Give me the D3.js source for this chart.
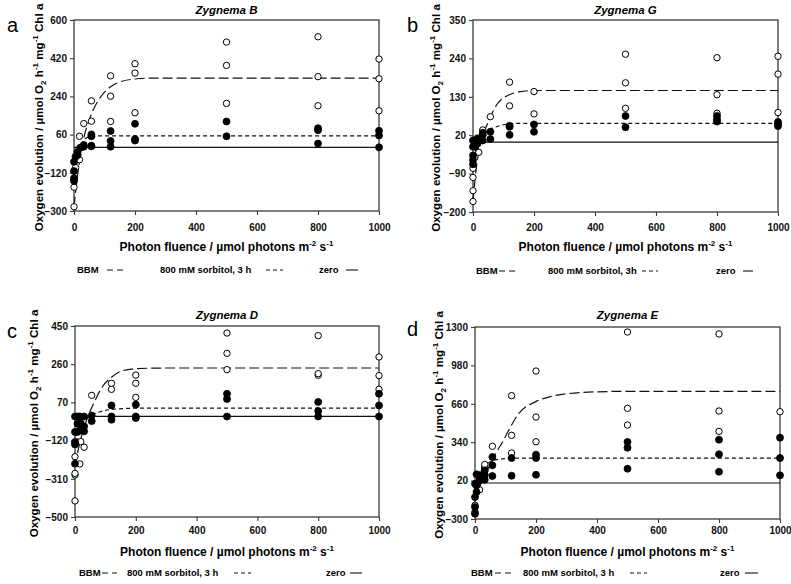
<!DOCTYPE html>
<html>
<head>
<meta charset="utf-8">
<script src="https://cdn.jsdelivr.net/npm/d3@7/dist/d3.min.js"></script>
<style>
  html, body { margin: 0; padding: 0; background: #fff; }
  svg { display: block; font-family: "Liberation Sans", Arial, sans-serif; }
</style>
</head>
<body>
<svg id="chart" width="791" height="584"></svg>
<script>
// x values are photon fluence, y values oxygen evolution
const X_TICKS = [0, 200, 400, 600, 800, 1000];

const Y_TICKS_B = [600, 420, 240, 60, -120, -300];
const Y_TICKS_G = [350, 240, 130, 20, -90, -200];
const Y_TICKS_D = [450, 260, 70, -120, -310, -500];
const Y_TICKS_E = [1300, 980, 660, 340, 20, -300];

// open circles (BBM)
const OPEN_B = [[0,-280],[0,-188],[0,-150],[5,-95],[18,-58],[18,52],[32,112],[57,123],[57,219],
  [120,122],[120,241],[120,337],[200,163],[200,350],[200,394],[500,207],[500,386],[500,496],
  [800,196],[800,333],[800,521],[1000,172],[1000,323],[1000,416]];
// filled circles (800 mM sorbitol / zero)
const FILLED_B = [[0,-158],[0,-146],[0,-112],[0,-68],[5,-44],[12,-36],[12,-21],[20,-2],[32,3],[32,11],
  [57,5],[57,8],[57,52],[57,61],[120,3],[120,30],[120,77],[200,32],[200,39],[200,111],
  [500,52],[500,122],[800,18],[800,81],[800,90],[1000,0],[1000,56],[1000,78]];
const FIT_BBM_B = [[0,-280],[10,-150],[20,-50],[30,30],[50,130],[75,210],[100,260],[125,290],[150,308],[200,322],[250,326],[1000,326]];
const FIT_SORB_B = [[0,-150],[10,-60],[20,0],[30,30],[50,50],[80,54],[1000,54]];

const OPEN_G = [[0,-170],[0,-139],[0,-101],[0,-75],[19,-29],[32,35],[57,73],[120,104],[120,172],
  [200,81],[200,145],[500,97],[500,170],[500,252],[800,83],[800,136],[800,242],[1000,85],[1000,195],[1000,246]];
const FILLED_G = [[0,-63],[0,-51],[0,-38],[0,-13],[0,5],[8,-13],[8,2],[15,-3],[15,11],[32,5],[32,21],[32,27],
  [57,9],[57,30],[120,21],[120,44],[120,47],[200,30],[200,51],[500,43],[500,75],
  [800,59],[800,65],[800,75],[1000,46],[1000,51],[1000,58]];
const FIT_BBM_G = [[0,-170],[10,-80],[20,-25],[30,10],[55,68],[80,110],[117,135],[150,144],[200,148],[1000,148]];
const FIT_SORB_G = [[0,-70],[10,-20],[20,5],[30,18],[50,35],[70,42],[100,50],[150,54],[1000,54]];

const OPEN_D = [[0,-420],[0,-291],[0,-283],[0,-200],[8,-127],[16,-236],[19,-125],[19,-50],[30,-153],[55,105],
  [120,135],[120,165],[200,95],[200,165],[200,206],[500,233],[500,314],[500,415],
  [800,205],[800,213],[800,402],[1000,135],[1000,203],[1000,296]];
const FILLED_D = [[0,-235],[0,-139],[0,-127],[0,-77],[0,0],[8,0],[8,-36],[8,-77],[16,0],[16,-27],[16,-69],
  [30,0],[30,-49],[30,-74],[55,5],[55,-23],[120,55],[120,0],[120,-16],[200,59],[200,0],[200,-8],
  [500,113],[500,87],[500,0],[800,72],[800,27],[800,0],[1000,113],[1000,55],[1000,0]];
const FIT_BBM_D = [[0,-250],[10,-170],[24,-84],[40,-10],[60,60],[90,148],[120,195],[148,223],[200,238],[300,241],[1000,241]];
const FIT_SORB_D = [[0,-100],[20,-40],[40,-10],[56,7],[80,22],[120,35],[200,41],[1000,42]];

const OPEN_E = [[0,-242],[0,-186],[15,-56],[15,22],[32,119],[32,133],[32,155],[57,306],
  [120,250],[120,397],[120,728],[200,344],[200,550],[200,933],[500,483],[500,622],[500,1258],
  [800,430],[800,600],[800,1242],[1000,594]];
const FILLED_E = [[0,-256],[0,-200],[0,-117],[0,-6],[5,-75],[5,-20],[5,72],[15,22],[15,64],
  [32,28],[32,69],[32,105],[57,58],[57,147],[57,217],[120,61],[120,208],[200,69],[200,208],[200,236],
  [500,119],[500,294],[500,342],[800,94],[800,239],[800,361],[1000,64],[1000,208],[1000,378]];
const FIT_BBM_E = [[0,-150],[30,60],[50,150],[68,248],[90,340],[111,442],[144,581],[199,678],[250,722],[297,742],[400,760],[500,764],[1000,764]];
const FIT_SORB_E = [[0,-100],[15,60],[35,150],[67,192],[113,205],[200,208],[1000,208]];

const ZERO_LINE = [[0,0],[1000,0]];

const TITLES = ["Zygnema B", "Zygnema G", "Zygnema D", "Zygnema E"];
const LETTERS = ["a", "b", "c", "d"];
const SORB_LABELS = ["800 mM sorbitol, 3 h", "800 mM sorbitol, 3h", "800 mM sorbitol, 3 h", "800 mM sorbitol, 3 h"];

// panel geometry (pixels)
const LAYOUT = [
  { l: 74, t: 20, r: 379, b: 211, tick: 231, xlab: 251, ylabX: 39, title: 14, letter: [7, 32],
    leg: { y: 273, bbm: 77, bbmDash: [107, 123], sorb: 160, sorbDash: [266, 283], zero: 319, zeroLine: [346, 358] } },
  { l: 473, t: 20, r: 778, b: 212, tick: 231, xlab: 251, ylabX: 436, title: 14, letter: [407, 32],
    leg: { y: 274, bbm: 476, bbmDash: [499, 519], sorb: 548, sorbDash: [642, 658], zero: 716, zeroLine: [743, 753] } },
  { l: 75, t: 326, r: 379, b: 517, tick: 534, xlab: 556, ylabX: 34, title: 319, letter: [7, 338],
    leg: { y: 576, bbm: 79, bbmDash: [102, 117], sorb: 127, sorbDash: [234, 251], zero: 326, zeroLine: [350, 362] } },
  { l: 475, t: 327, r: 780, b: 519, tick: 534, xlab: 556, ylabX: 439, title: 319, letter: [407, 336],
    leg: { y: 576, bbm: 471, bbmDash: [495, 512], sorb: 523, sorbDash: [630, 647], zero: 720, zeroLine: [745, 758] } },
];

const panels = [
  { yTicks: Y_TICKS_B, open: OPEN_B, filled: FILLED_B, bbm: FIT_BBM_B, sorb: FIT_SORB_B },
  { yTicks: Y_TICKS_G, open: OPEN_G, filled: FILLED_G, bbm: FIT_BBM_G, sorb: FIT_SORB_G },
  { yTicks: Y_TICKS_D, open: OPEN_D, filled: FILLED_D, bbm: FIT_BBM_D, sorb: FIT_SORB_D },
  { yTicks: Y_TICKS_E, open: OPEN_E, filled: FILLED_E, bbm: FIT_BBM_E, sorb: FIT_SORB_E },
];

const AXIS_COLOR = "#3a3a3a";
const BBM_DASH = "10,4";
const SORB_DASH = "4,3";

const svg = d3.select("#chart");

function drawPanel(p, i) {
  const L = LAYOUT[i];
  const g = svg.append("g");

  const x = d3.scaleLinear().domain([0, 1000]).range([L.l, L.r]);
  const y = d3.scaleLinear().domain(d3.extent(p.yTicks)).range([L.b, L.t]);

  // frame
  g.append("rect")
    .attr("x", L.l).attr("y", L.t)
    .attr("width", L.r - L.l).attr("height", L.b - L.t)
    .attr("fill", "none").attr("stroke", AXIS_COLOR).attr("stroke-width", 1.3);

  const xAxis = g.append("g")
    .attr("transform", `translate(0,${L.b})`)
    .call(d3.axisBottom(x).tickValues(X_TICKS).tickSize(4).tickFormat(d3.format("d")));
  const yAxis = g.append("g")
    .attr("transform", `translate(${L.l},0)`)
    .call(d3.axisLeft(y).tickValues(p.yTicks).tickSize(4).tickFormat(d3.format("d")));

  [xAxis, yAxis].forEach((a) => {
    a.select(".domain").remove();
    a.selectAll("line").attr("stroke", AXIS_COLOR).attr("stroke-width", 1.1);
    a.selectAll("text")
      .attr("fill", "#111")
      .style("font-size", "10px")
      .style("font-weight", "bold");
  });
  xAxis.selectAll("text").attr("dy", null).attr("y", L.tick - L.b);
  yAxis.selectAll("text").attr("x", -7);

  // fitted curves
  const line = d3.line().x((d) => x(d[0])).y((d) => y(d[1])).curve(d3.curveMonotoneX);
  g.append("path").attr("d", line(ZERO_LINE))
    .attr("fill", "none").attr("stroke", "#111").attr("stroke-width", 1.2);
  g.append("path").attr("d", line(p.sorb))
    .attr("fill", "none").attr("stroke", "#111").attr("stroke-width", 1.2)
    .attr("stroke-dasharray", SORB_DASH);
  g.append("path").attr("d", line(p.bbm))
    .attr("fill", "none").attr("stroke", "#111").attr("stroke-width", 1.2)
    .attr("stroke-dasharray", BBM_DASH);

  // points
  g.append("g").selectAll("circle").data(p.open).join("circle")
    .attr("cx", (d) => x(d[0])).attr("cy", (d) => y(d[1])).attr("r", 3.2)
    .attr("fill", "#fff").attr("stroke", "#000").attr("stroke-width", 1);
  g.append("g").selectAll("circle").data(p.filled).join("circle")
    .attr("cx", (d) => x(d[0])).attr("cy", (d) => y(d[1])).attr("r", 3.5)
    .attr("fill", "#000").attr("stroke", "#000").attr("stroke-width", 0.8);

  // title
  g.append("text")
    .attr("x", (L.l + L.r) / 2).attr("y", L.title)
    .attr("text-anchor", "middle")
    .style("font-size", "11.5px").style("font-weight", "bold").style("font-style", "italic")
    .text(TITLES[i]);

  // panel letter
  g.append("text")
    .attr("x", L.letter[0]).attr("y", L.letter[1])
    .style("font-size", "20px")
    .text(LETTERS[i]);

  // y label
  const yl = g.append("text")
    .attr("transform", `translate(${L.ylabX + 4},${(L.t + L.b) / 2 + 2}) rotate(-90)`)
    .attr("text-anchor", "middle")
    .style("font-size", "11.6px").style("font-weight", "bold");
  yl.append("tspan").text("Oxygen evolution / µmol O");
  yl.append("tspan").attr("dy", 3).style("font-size", "8px").text("2");
  yl.append("tspan").attr("dy", -3).text(" h");
  yl.append("tspan").attr("dy", -5).style("font-size", "8px").text("-1");
  yl.append("tspan").attr("dy", 5).text(" mg");
  yl.append("tspan").attr("dy", -5).style("font-size", "8px").text("-1");
  yl.append("tspan").attr("dy", 5).text(" Chl a");

  // x label
  const xl = g.append("text")
    .attr("x", (L.l + L.r) / 2).attr("y", L.xlab)
    .attr("text-anchor", "middle")
    .style("font-size", "12px").style("font-weight", "bold");
  xl.append("tspan").text("Photon fluence / µmol photons m");
  xl.append("tspan").attr("dy", -5).style("font-size", "8px").text("-2");
  xl.append("tspan").attr("dy", 5).text(" s");
  xl.append("tspan").attr("dy", -5).style("font-size", "8px").text("-1");

  // legend
  const lg = L.leg;
  const legText = (xx, s) => g.append("text").attr("x", xx).attr("y", lg.y)
    .style("font-size", "9.5px").style("font-weight", "bold").text(s);
  const legLine = (xs, dash) => g.append("line")
    .attr("x1", xs[0]).attr("x2", xs[1]).attr("y1", lg.y - 3).attr("y2", lg.y - 3)
    .attr("stroke", "#111").attr("stroke-width", 1.1)
    .attr("stroke-dasharray", dash);
  legText(lg.bbm, "BBM");
  legLine(lg.bbmDash, "6,4");
  legText(lg.sorb, SORB_LABELS[i]);
  legLine(lg.sorbDash, "4,3");
  legText(lg.zero, "zero");
  legLine(lg.zeroLine, null);
}

panels.forEach(drawPanel);
</script>
</body>
</html>
